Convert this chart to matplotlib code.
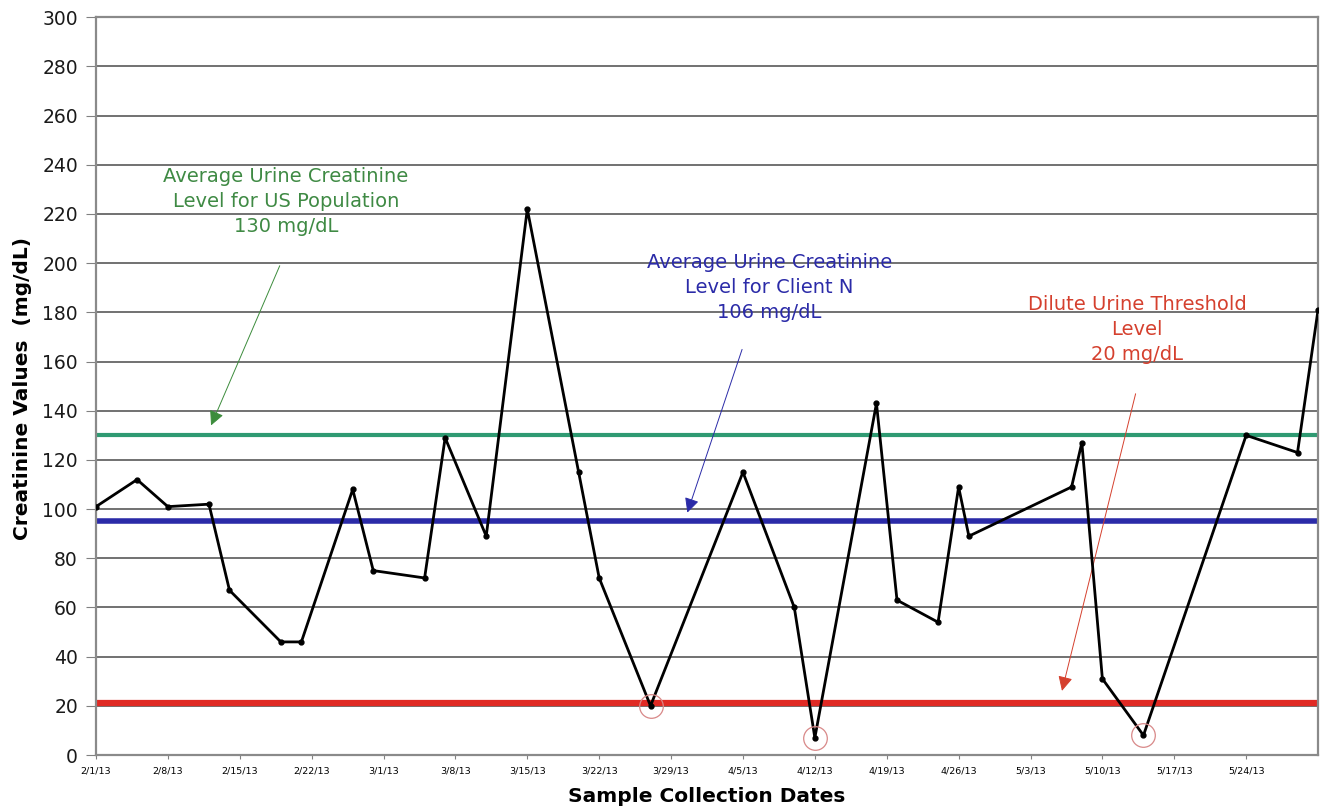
import datetime as dt
import matplotlib
matplotlib.use("Agg")
import matplotlib.pyplot as plt
import matplotlib.dates as mdates
from matplotlib.ticker import FuncFormatter, MultipleLocator

# sample dates and creatinine values (mg/dL)
dates = ["2013-02-01", "2013-02-05", "2013-02-08", "2013-02-12", "2013-02-14",
         "2013-02-19", "2013-02-21", "2013-02-26", "2013-02-28", "2013-03-05",
         "2013-03-07", "2013-03-11", "2013-03-15", "2013-03-20", "2013-03-22",
         "2013-03-27", "2013-04-05", "2013-04-10", "2013-04-12", "2013-04-18",
         "2013-04-20", "2013-04-24", "2013-04-26", "2013-04-27", "2013-05-07",
         "2013-05-08", "2013-05-10", "2013-05-14", "2013-05-24", "2013-05-29",
         "2013-05-31"]
values = [101, 112, 101, 102, 67, 46, 46, 108, 75, 72, 129, 89, 222, 115, 72,
          20, 115, 60, 7, 143, 63, 54, 109, 89, 109, 127, 31, 8, 130, 123, 181]
flagged = ["2013-03-27", "2013-04-12", "2013-05-14"]

us_avg = 130
client_avg = 95
dilute = 21

tick_start = "2013-02-01"
tick_end = "2013-05-24"

dates = [dt.datetime.strptime(d, "%Y-%m-%d") for d in dates]
flag_idx = [dates.index(dt.datetime.strptime(d, "%Y-%m-%d")) for d in flagged]

fig = plt.figure(figsize=(13.24, 8.09), dpi=100)
ax = fig.add_axes([0.0725, 0.0667, 0.923, 0.912])

ax.set_ylim(0, 300)
ax.set_xlim(dates[0], dates[-1])
ax.yaxis.set_major_locator(MultipleLocator(20))
ax.grid(axis="y", color="#4a4a4a", lw=1.1, zorder=1)

ax.axhline(us_avg, color="#2f9a72", lw=3, zorder=2)
ax.axhline(client_avg, color="#2b2ba8", lw=4, zorder=2)
ax.axhline(dilute, color="#e02a24", lw=4.5, zorder=2)

ax.plot(dates, values, color="black", lw=2, marker="o", ms=3.5, zorder=4)
ax.plot([dates[i] for i in flag_idx], [values[i] for i in flag_idx], ls="none",
        marker="o", ms=17, mfc="none", mec="#d88888", mew=0.9, zorder=5)

# ticks
t0 = dt.datetime.strptime(tick_start, "%Y-%m-%d")
t1 = dt.datetime.strptime(tick_end, "%Y-%m-%d")
xt = []
t = t0
while t <= t1:
    xt.append(t)
    t += dt.timedelta(days=7)
ax.set_xticks(xt)
ax.xaxis.set_major_formatter(FuncFormatter(
    lambda x, p: (lambda d: f"{d.month}/{d.day}/{d.year % 100}")(mdates.num2date(x))))
ax.tick_params(axis="x", labelsize=6.8, length=3, color="#808080", pad=5)
ax.tick_params(axis="y", labelsize=13.5, length=7, color="#808080", pad=6)
for lab in ax.get_yticklabels():
    lab.set_color("#1a1a1a")
    lab.set_fontweight("medium")

for s in ax.spines.values():
    s.set_color("#8a8a8a")
    s.set_linewidth(1.6)

ax.set_xlabel("Sample Collection Dates", fontsize=14.5, fontweight="bold")
ax.set_ylabel("Creatinine Values  (mg/dL)", fontsize=14.5, fontweight="bold")
ax.xaxis.set_label_coords(0.5, -0.043)
ax.yaxis.set_label_coords(-0.052, 0.497)

def day(n):
    return dates[0] + dt.timedelta(days=n)

# annotations
ax.text(day(18.5), 239, "Average Urine Creatinine\nLevel for US Population\n130 mg/dL",
        color="#3f8a44", fontsize=14, ha="center", va="top", linespacing=1.38)
ax.annotate("", xy=(day(11.1), 133), xytext=(day(18), 200),
            arrowprops=dict(arrowstyle="-|>", color="#3c8c3c", lw=0.7, mutation_scale=22))

ax.text(day(65.6), 204, "Average Urine Creatinine\nLevel for Client N\n106 mg/dL",
        color="#2b2ba8", fontsize=14, ha="center", va="top", linespacing=1.38)
ax.annotate("", xy=(day(57.5), 97.5), xytext=(day(63), 166),
            arrowprops=dict(arrowstyle="-|>", color="#2b2ba8", lw=0.7, mutation_scale=22))

ax.text(day(101.4), 187, "Dilute Urine Threshold\nLevel\n20 mg/dL",
        color="#d5402e", fontsize=14, ha="center", va="top", linespacing=1.38)
ax.annotate("", xy=(day(94), 25), xytext=(day(101.3), 148),
            arrowprops=dict(arrowstyle="-|>", color="#d5402e", lw=0.7, mutation_scale=22))

fig.savefig("out.png", dpi=100)
